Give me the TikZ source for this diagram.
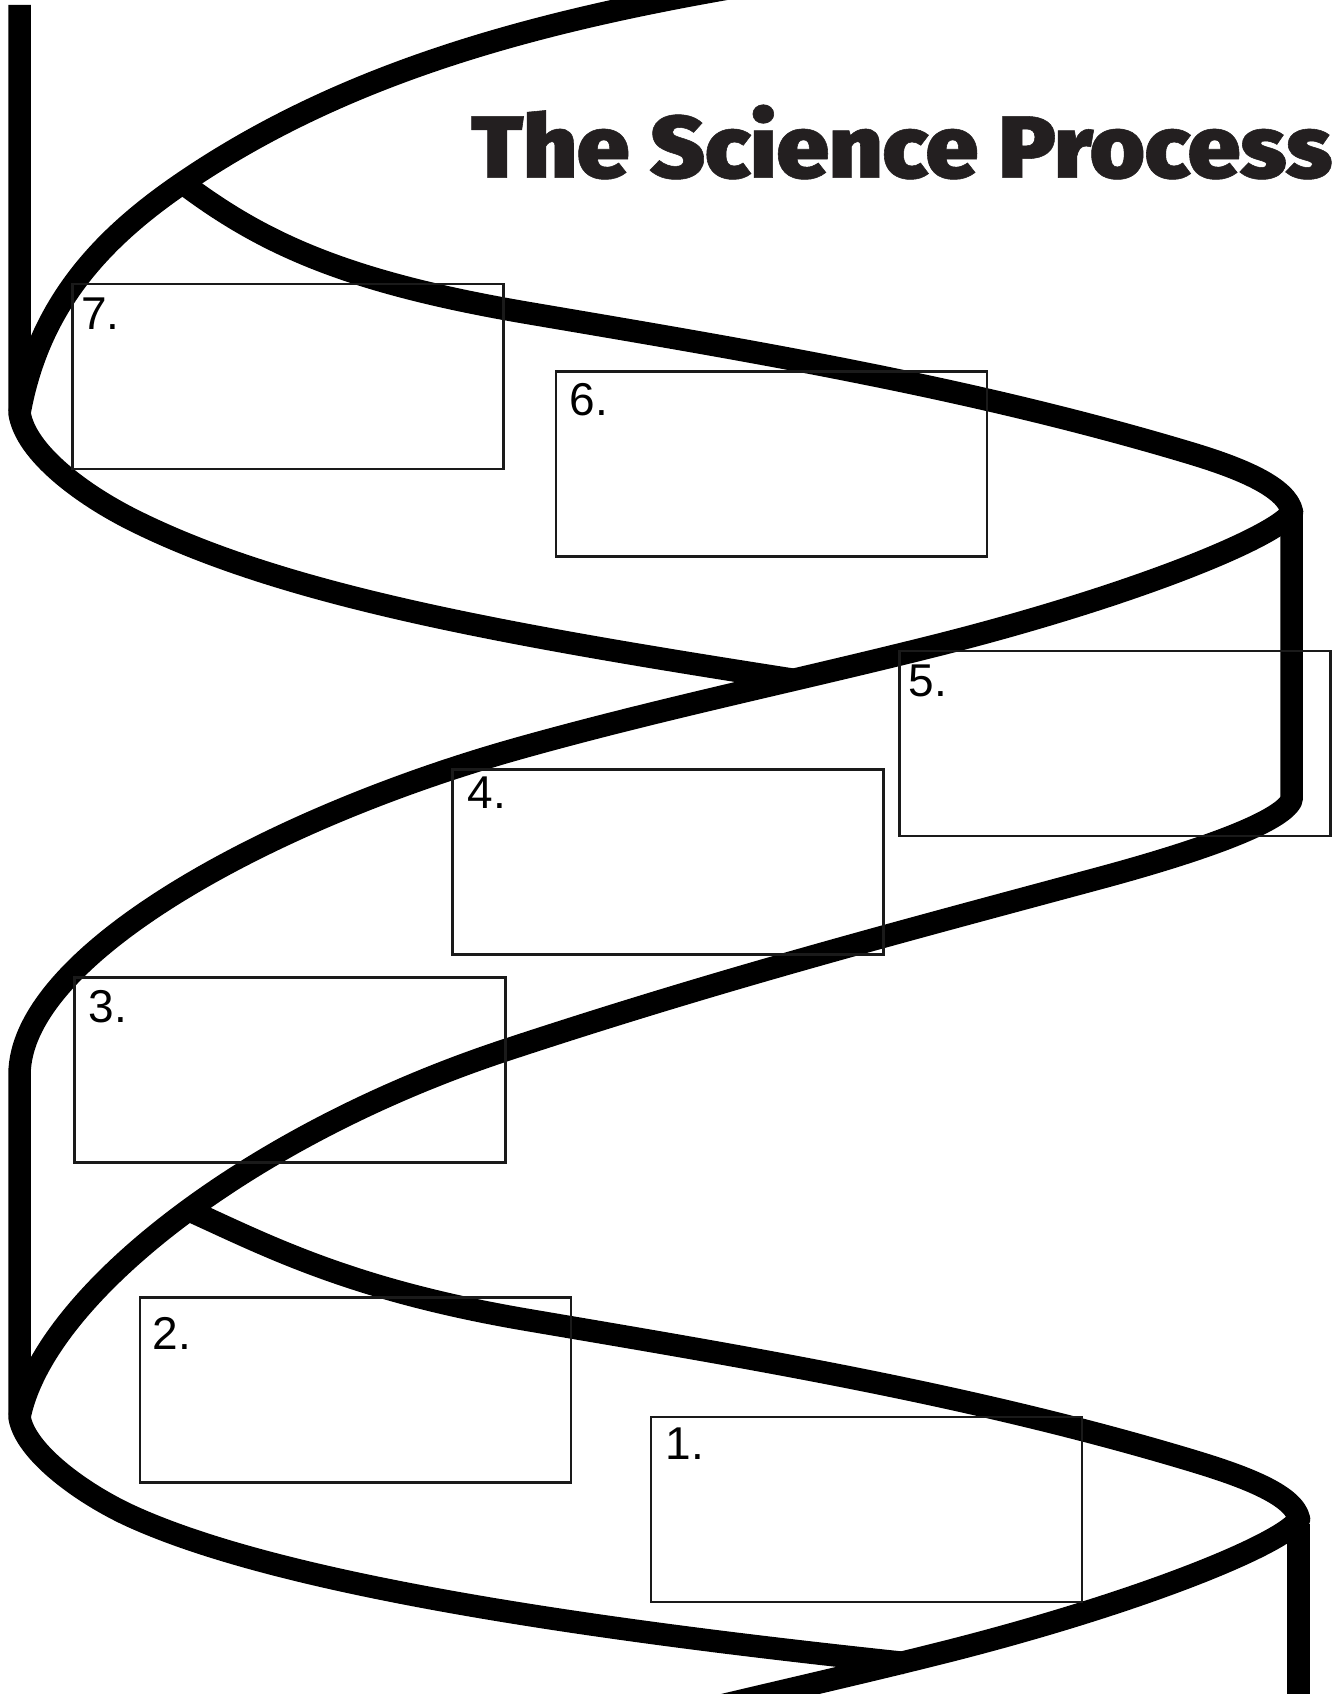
\documentclass[tikz,border=0pt]{standalone}
\usepackage{fontspec}
\setmainfont{Liberation Sans}
\IfFontExistsTF{Fira Sans Black}
  {\newfontfamily\titlefont{Fira Sans Black}[FakeBold=0.6]\newcommand\titleweight{\mdseries}}
  {\IfFontExistsTF{Fira Sans ExtraBold}
    {\newfontfamily\titlefont{Fira Sans ExtraBold}[FakeBold=1.5]\newcommand\titleweight{\mdseries}}
    {\newfontfamily\titlefont{Fira Sans}[BoldFeatures={FakeBold=3}]\newcommand\titleweight{\bfseries}}}
\definecolor{ink}{HTML}{231F20}
\definecolor{boxgray}{HTML}{1A1A1A}
\begin{document}
\begin{tikzpicture}[x=1pt,y=-1pt,
  strand/.style={line width=22.5pt, line join=round, line cap=butt, black},
  answerbox/.style={draw=boxgray, line width=2.4pt, minimum width=431pt, minimum height=185pt, inner sep=0pt},
  lbl/.style={anchor=north west, inner sep=0pt, text=black, font=\fontsize{46}{46}\selectfont}]
\useasboundingbox[fill=white] (0,0) rectangle (1336,1694);
\begin{scope}
\clip (0,0) rectangle (1336,1694);
% top outer arc
\draw[strand] (830,-28) .. controls (580,9.5) and (364,59.6) .. (184,182)
  .. controls (104,236.4) and (39.3,303) .. (19.5,413);
% left vertical (top) and lower-left curve up to the crossing
\draw[strand] (19.5,5) -- (19.5,413)
  .. controls (25.5,453) and (83,495) .. (133,520)
  .. controls (283,595) and (500,634) .. (795,680);
% upper inner strand, turn, rising strand, left vertical (bottom), lower-left curve
\draw[strand] (184,184) .. controls (264,244) and (348,282.4) .. (528,313)
  .. controls (748,350.4) and (970,387) .. (1190,453)
  .. controls (1240,468) and (1287,487) .. (1292,512)
  .. controls (1277,537) and (1130,597) .. (930,647)
  .. controls (790,682) and (660,708.8) .. (520,748)
  .. controls (270,818) and (19.5,955) .. (19.5,1075)
  -- (19.5,1417)
  .. controls (24.75,1452) and (83,1494.5) .. (133,1517)
  .. controls (283,1584.5) and (582,1628.7) .. (905,1663);
% right vertical (upper) and lower outer arc
\draw[strand] (1291.5,514) -- (1291.5,800)
  .. controls (1282,822) and (1200,851) .. (1100,878)
  .. controls (900,932) and (726,977.4) .. (506,1050)
  .. controls (246,1135.8) and (43.5,1297) .. (19.5,1417);
% lower inner strand and its return
\draw[strand] (184,1208) .. controls (264,1244) and (348,1289.4) .. (528,1320)
  .. controls (748,1357.4) and (970,1394) .. (1190,1460)
  .. controls (1240,1475) and (1294,1494) .. (1299,1519)
  .. controls (1284,1544) and (1137,1604) .. (937,1654)
  .. controls (797,1689) and (667,1715.8) .. (527,1755);
% right vertical (lower)
\draw[strand] (1298.5,1524) -- (1298.5,1720);
\end{scope}
% answer boxes
\node[answerbox] (b7) at (288,376.5) {};
\node[answerbox] (b6) at (771.5,464) {};
\node[answerbox] (b5) at (1115,743.5) {};
\node[answerbox] (b4) at (668,862) {};
\node[answerbox] (b3) at (290,1070) {};
\node[answerbox] (b2) at (355.5,1390) {};
\node[answerbox] (b1) at (866.5,1509.5) {};
% labels
\node[lbl] (l7) at (80.8,298) {7.};
\node[lbl] (l6) at (569.3,383) {6.};
\node[lbl] (l5) at (908.5,665) {5.};
\node[lbl] (l4) at (467.4,777) {4.};
\node[lbl] (l3) at (88.5,990) {3.};
\node[lbl] (l2) at (152.7,1317) {2.};
\node[lbl] (l1) at (665.5,1428) {1.};
% title
\node[anchor=base west, inner sep=0pt, text=ink] (title) at (471,177.7) {\resizebox{861pt}{73pt}{\titlefont\titleweight The Science Process}};
\end{tikzpicture}
\end{document}
